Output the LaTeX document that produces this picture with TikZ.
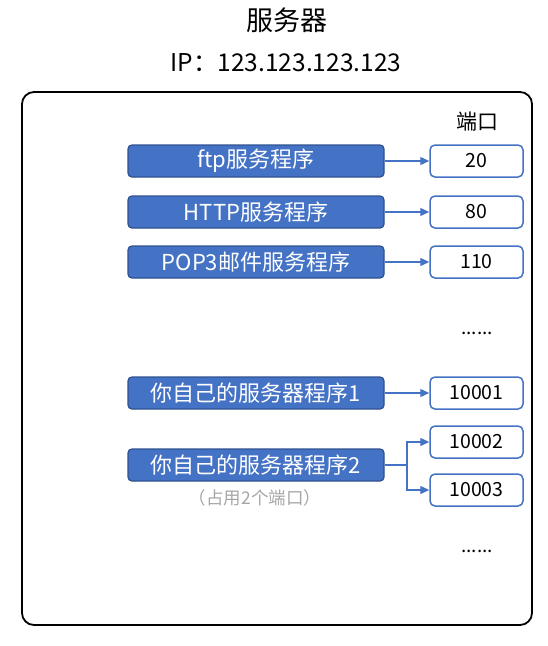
\documentclass[tikz,border=0pt]{standalone}
\usepackage{fontspec}
\setmainfont{Noto Sans CJK SC}
\usetikzlibrary{arrows.meta}

\definecolor{progblue}{HTML}{4472C4}
\definecolor{progedge}{HTML}{2F528F}
\definecolor{notegray}{HTML}{A6A6A6}

\begin{document}
\begin{tikzpicture}[x=1pt,y=-1pt]

% =======================================================
% Layout parameters (pixel units, y downwards)
% =======================================================
\def\progx{256}    % centre of the program boxes
\def\portx{476.5}  % centre of the port boxes

% =======================================================
% Styles
% =======================================================
\tikzset{
  prog/.style = {draw=progedge, fill=progblue, line width=1.3pt, rounded corners=4pt,
                 minimum width=256pt, minimum height=32pt, inner sep=0pt,
                 text=white, font=\fontsize{22}{22}\selectfont},
  port/.style = {draw=progblue, fill=white, line width=1.5pt, rounded corners=5pt,
                 minimum width=93pt, minimum height=32pt, inner sep=0pt,
                 font=\fontsize{19.5}{19.5}\selectfont},
  link/.style = {draw=progblue, line width=1.3pt, -{Triangle[length=9pt,width=8pt]}},
}

\useasboundingbox (0,0) rectangle (548,646);

% Header
\node[font=\fontsize{27}{27}\selectfont] (title) at (287,20) {服务器};
\node[font=\fontsize{24.5}{24.5}\selectfont] (ip) at (286,63) {IP：123.123.123.123};

% Server frame
\draw[line width=1.8pt, rounded corners=12pt] (22,92) rectangle (532,625);

\node[font=\fontsize{21}{21}\selectfont] (porthead) at (477,122) {端口};

% Programs
\node[prog] (ftp)  at (\progx,161) {ftp服务程序};
\node[prog] (http) at (\progx,212) {HTTP服务程序};
\node[prog] (pop)  at (\progx,262) {POP3邮件服务程序};
\node[prog] (own1) at (\progx,393) {你自己的服务器程序1};
\node[prog] (own2) at (\progx,465) {你自己的服务器程序2};
\node[text=notegray, font=\fontsize{17.5}{17.5}\selectfont] (note) at (255,498) {（占用2个端口）};

% Ports
\node[port] (p20)    at (\portx,161) {20};
\node[port] (p80)    at (\portx,212) {80};
\node[port] (p110)   at (\portx,262) {110};
\node[font=\fontsize{19}{19}\selectfont] (dots1) at (477,333) {......};
\node[port] (p10001) at (\portx,393) {10001};
\node[port] (p10002) at (\portx,442) {10002};
\node[port] (p10003) at (\portx,490) {10003};
\node[font=\fontsize{19}{19}\selectfont] (dots2) at (477,551) {......};

% Connections
\draw[link] (ftp)  -- (p20);
\draw[link] (http) -- (p80);
\draw[link] (pop)  -- (p110);
\draw[link] (own1) -- (p10001);
\coordinate (fork) at (407,465);
\draw[draw=progblue, line width=1.3pt] (own2.east) -- (fork);
\draw[link] (fork) |- (p10002.west);
\draw[link] (fork) |- (p10003.west);

\end{tikzpicture}
\end{document}
